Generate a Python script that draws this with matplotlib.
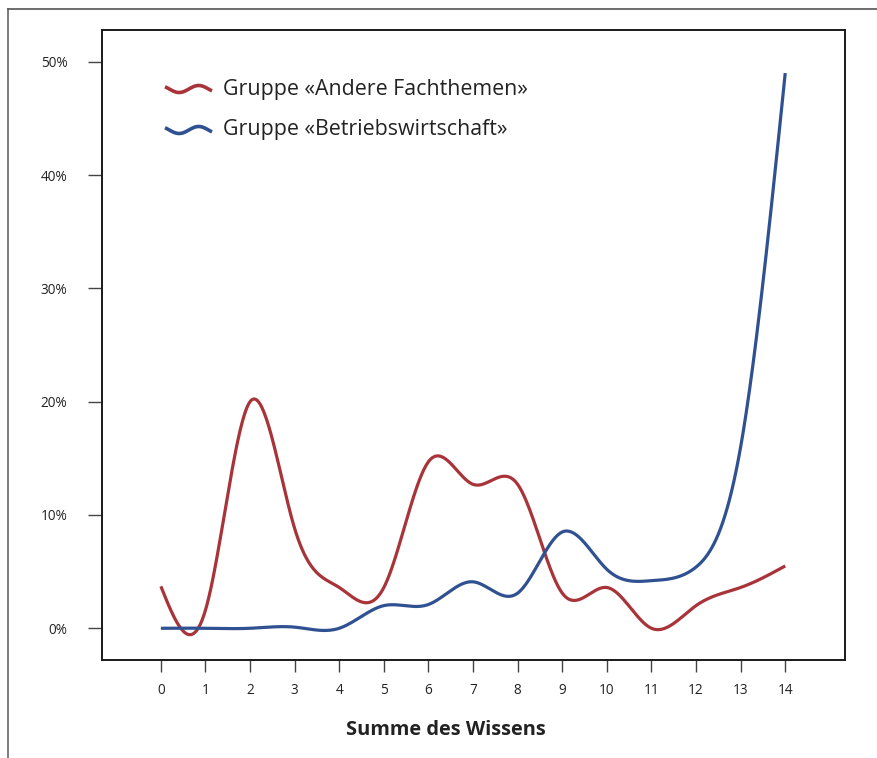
import numpy as np
import matplotlib
matplotlib.use("Agg")
import matplotlib.pyplot as plt
from matplotlib.lines import Line2D

plt.rcParams['font.family'] = ['Open Sans', 'DejaVu Sans']

# Summe des Wissens (0..14), Anteil in %
wissen = [0, 1, 2, 3, 4, 5, 6, 7, 8, 9, 10, 11, 12, 13, 14]
andere = [3.7, 1.6, 20.0, 8.8, 3.6, 3.6, 14.7, 12.7, 12.7, 3.1, 3.6, 0.0, 2.0, 3.6, 5.5]
betrieb = [0.0, 0.0, 0.0, 0.1, 0.0, 2.0, 2.1, 4.1, 3.1, 8.5, 5.2, 4.2, 5.4, 16.0, 49.0]
y_ticks = [0, 10, 20, 30, 40, 50]
labels = ['Gruppe «Andere Fachthemen»', 'Gruppe «Betriebswirtschaft»']
colors = ['#a8343a', '#2f5191']


def natural_spline(x, y, n=40):
    # natural cubic spline, only numpy
    x = np.asarray(x, float)
    y = np.asarray(y, float)
    k = len(x)
    h = np.diff(x)
    A = np.zeros((k, k))
    b = np.zeros(k)
    A[0, 0] = A[-1, -1] = 1
    for i in range(1, k - 1):
        A[i, i - 1] = h[i - 1]
        A[i, i] = 2 * (h[i - 1] + h[i])
        A[i, i + 1] = h[i]
        b[i] = 3 * ((y[i + 1] - y[i]) / h[i] - (y[i] - y[i - 1]) / h[i - 1])
    c = np.linalg.solve(A, b)
    xs, ys = [], []
    for i in range(k - 1):
        bb = (y[i + 1] - y[i]) / h[i] - h[i] * (2 * c[i] + c[i + 1]) / 3
        d = (c[i + 1] - c[i]) / (3 * h[i])
        t = np.linspace(0, h[i], n, endpoint=(i == k - 2))
        xs.append(x[i] + t)
        ys.append(y[i] + bb * t + c[i] * t ** 2 + d * t ** 3)
    return np.concatenate(xs), np.concatenate(ys)


fig = plt.figure(figsize=(8.77, 7.58), dpi=100)
ax = fig.add_axes([102 / 877, 98 / 758, 743 / 877, 630 / 758])

for vals, col in zip([andere, betrieb], colors):
    sx, sy = natural_spline(wissen, vals)
    ax.plot(sx, sy, color=col, lw=2.3, solid_capstyle='butt')

ax.set_xlim(-1.32, 15.34)
ax.set_ylim(-2.8, 52.8)
ax.set_xticks(wissen)
ax.set_xticklabels([str(v) for v in wissen])
ax.set_yticks(y_ticks)
ax.set_yticklabels([f'{v}%' for v in y_ticks])
ax.tick_params(axis='y', length=10, width=1, color='#444444', pad=15,
               labelsize=9.8, labelcolor='#222222')
ax.tick_params(axis='x', length=8.5, width=1, color='#444444', pad=8,
               labelsize=9.8, labelcolor='#222222')
for s in ax.spines.values():
    s.set_linewidth(1.4)
    s.set_color('#1a1a1a')

# legend with wavy handles (pixel positions inside the axes box)
t = np.linspace(0, 1, 60)
wave = np.sin(2 * np.pi * 1.2 * t - 0.69)
for i, (lab, col) in enumerate(zip(labels, colors)):
    yc = 89 + 41 * i
    hx = (165 + 47 * t - 102) / 743
    hy = (660 - (yc + 3.5 * wave)) / 630
    ax.plot(hx, hy, color=col, lw=2.6, transform=ax.transAxes, clip_on=False,
            solid_capstyle='butt')
    ax.text((223 - 102) / 743, (660 - yc) / 630, lab, transform=ax.transAxes,
            fontsize=15.4, color='#222222', va='center', ha='left')

fig.text(445.5 / 877, (758 - 730) / 758, 'Summe des Wissens', fontsize=14.4,
         fontweight='bold', ha='center', va='center', color='#222222')

# outer frame
fig.add_artist(Line2D([8 / 877, 8 / 877], [0, 749 / 758], color='#666666', lw=1.2))
fig.add_artist(Line2D([8 / 877, 1], [749 / 758, 749 / 758], color='#555555', lw=1.2))

fig.savefig('out.png', dpi=100)
